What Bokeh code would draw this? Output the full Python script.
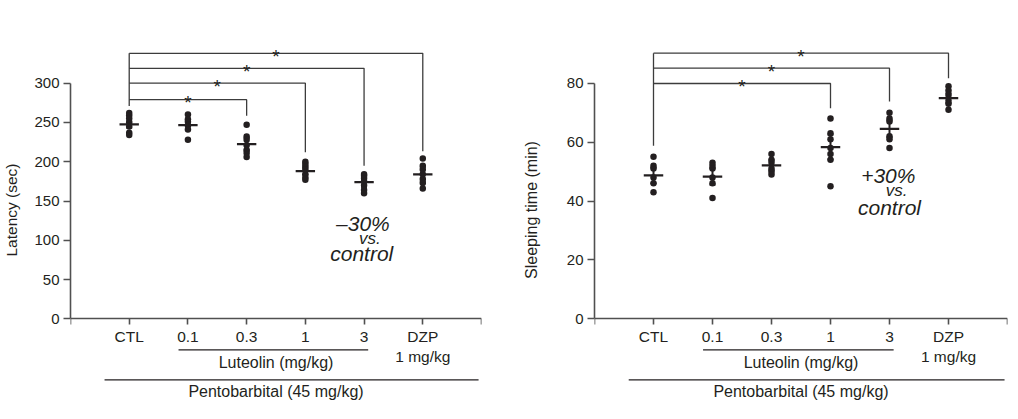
from bokeh.plotting import figure
from bokeh.layouts import row
from bokeh.models import Range1d, FixedTicker
from bokeh.core.properties import value
from bokeh.embed import file_html
from bokeh.resources import INLINE

# ---- data -------------------------------------------------------------
groups = ["CTL", "0.1", "0.3", "1", "3", "DZP\n1 mg/kg"]

latency_points = [
    [262, 259, 255, 250, 245, 237, 234],
    [260, 254, 251, 246, 241, 228],
    [247, 232, 228, 221, 215, 211, 206],
    [200, 197, 194, 190, 184, 180, 177],
    [184, 182, 179, 175, 170, 164, 160],
    [204, 195, 190, 184, 178, 173, 166],
]
latency_mean = [247.5, 246.5, 222.5, 188, 174, 184]
latency_sem = [4.2, 6.0, 8.0, 4.2, 6.8, 9.0]
latency_ticks = [0, 50, 100, 150, 200, 250, 300]

sleep_points = [
    [55, 52, 51, 48, 46, 43],
    [53, 52, 51, 48, 46, 41],
    [56, 54, 53, 51, 50, 49],
    [68, 63, 61, 58, 56, 54, 45],
    [70, 68, 67, 62, 61, 58],
    [79, 77.5, 76, 74, 73, 71],
]
sleep_mean = [48.7, 48.3, 52.1, 58.3, 64.5, 74.9]
sleep_sem = [2.7, 2.8, 1.7, 4.2, 2.9, 1.7]
sleep_ticks = [0, 20, 40, 60, 80]

INK = "#231f20"
AXIS = "#505050"
FONT = "Liberation Sans"

H = 419
ZERO_PX = 318.3  # screen row of the y = 0 baseline


def panel(width, left, right, px_per_unit, ticks, ylabel, label_size, label_standoff,
          points, means, sems, brackets, ctl_start, note, note_x, note_y):
    y_lo = -(H - ZERO_PX) / px_per_unit
    y_hi = ZERO_PX / px_per_unit

    def y_px(px):
        return (ZERO_PX - px) / px_per_unit

    p = figure(width=width, height=H, x_range=Range1d(0, 7), y_range=Range1d(y_lo, y_hi),
               output_backend="svg", toolbar_location=None,
               min_border_left=left, min_border_right=right,
               min_border_top=0, min_border_bottom=0)
    p.outline_line_color = None
    p.grid.visible = False
    p.background_fill_color = "white"
    p.border_fill_color = "white"

    # y axis, drawn only over the tick span
    ya = p.yaxis[0]
    ya.bounds = (0, ticks[-1])
    ya.ticker = FixedTicker(ticks=ticks)
    ya.axis_label = ylabel
    ya.axis_label_text_font = FONT
    ya.axis_label_text_font_style = "normal"
    ya.axis_label_text_font_size = label_size
    ya.axis_label_text_color = INK
    ya.axis_label_standoff = label_standoff
    ya.major_label_text_font = FONT
    ya.major_label_text_font_size = "15px"
    ya.major_label_text_color = INK
    ya.major_label_standoff = 4
    ya.major_tick_in = 0
    ya.major_tick_out = 7
    ya.minor_tick_out = 0
    ya.minor_tick_in = 0
    ya.axis_line_color = AXIS
    ya.major_tick_line_color = AXIS
    ya.axis_line_width = 1.6
    ya.major_tick_line_width = 1.6

    # x axis pinned at y = 0
    xa = p.xaxis[0]
    xa.fixed_location = 0
    xa.ticker = FixedTicker(ticks=list(range(8)))
    overrides = {0: "", 7: ""}
    for i, g in enumerate(groups):
        overrides[i + 1] = g
    xa.major_label_overrides = overrides
    xa.major_label_text_font = FONT
    xa.major_label_text_font_size = "15.5px"
    xa.major_label_text_color = INK
    xa.major_label_standoff = 3
    xa.major_tick_in = 0
    xa.major_tick_out = 6
    xa.minor_tick_out = 0
    xa.minor_tick_in = 0
    xa.axis_line_color = AXIS
    xa.major_tick_line_color = AXIS
    xa.axis_line_width = 1.6
    xa.major_tick_line_width = 1.6

    # individual animals
    xs, ys = [], []
    for i, pts in enumerate(points):
        xs += [i + 1] * len(pts)
        ys += pts
    p.scatter(xs, ys, size=6.5, color=INK, line_color=None)

    # mean and SEM
    cx = [i + 1 for i in range(len(means))]
    lo = [m - s for m, s in zip(means, sems)]
    hi = [m + s for m, s in zip(means, sems)]
    p.segment([c - 0.165 for c in cx], means, [c + 0.165 for c in cx], means,
              line_width=2.2, color=INK)
    p.segment(cx, lo, cx, hi, line_width=2, color=INK)
    p.segment([c - 0.05 for c in cx], lo, [c + 0.05 for c in cx], lo, line_width=2, color=INK)
    p.segment([c - 0.05 for c in cx], hi, [c + 0.05 for c in cx], hi, line_width=2, color=INK)

    # significance brackets against the control group
    top = max(b[1] for b in brackets)
    bx, by = [[1, 1]], [[ctl_start, top]]
    for target, level, end in brackets:
        bx.append([1, target, target])
        by.append([level, level, end])
    p.multi_line(bx, by, line_width=1.3, color="#3c3c3c")
    p.text(x=[(1 + b[0]) / 2 for b in brackets], y=[b[1] for b in brackets],
           text=["*"] * len(brackets), text_align="center", text_baseline="alphabetic",
           text_font=value(FONT), text_font_size="19px", text_color=INK, y_offset=3)

    # group underlines
    p.segment([1.84], [y_px(349.3)], [5.07], [y_px(349.3)], line_width=1.2, color=INK)
    p.text(x=[3.5], y=[y_px(362)], text=["Luteolin (mg/kg)"], text_align="center",
           text_baseline="middle", text_font=value(FONT), text_font_size="16px",
           text_color=INK)
    p.segment([0.58], [y_px(379.3)], [6.95], [y_px(379.3)], line_width=1.2, color=INK)
    p.text(x=[3.5], y=[y_px(390.7)], text=["Pentobarbital (45 mg/kg)"], text_align="center",
           text_baseline="middle", text_font=value(FONT), text_font_size="16px",
           text_color=INK)

    # percent-change note
    p.text(x=note_x, y=note_y, text=note, text_align="center",
           text_baseline="middle", text_font=value(FONT), text_font_style="italic",
           text_font_size=["21px", "17px", "21px"], text_color=INK)
    return p


left = panel(509, 68, 28, 235.6 / 300, latency_ticks, "Latency (sec)", "15.5px", 11,
             latency_points, latency_mean, latency_sem,
             [(3, 279, 258.6), (4, 300, 212), (5, 319, 195), (6, 338, 213.5)], 271,
             ["\u201330%", "vs.", "control"], [4.98, 5.1, 4.96], [121, 102.5, 83])

right = panel(509, 85, 11, 235.6 / 80, sleep_ticks, "Sleeping time (min)", "16px", 24,
              sleep_points, sleep_mean, sleep_sem,
              [(4, 79.9, 71.5), (5, 85.1, 73.8), (6, 90.2, 81.7)], 58.8,
              ["+30%", "vs.", "control"], [4.98, 5.12, 5.0], [48.6, 43.4, 37.9])

layout = row(left, right)
open("out.html", "w").write(file_html(layout, INLINE))
